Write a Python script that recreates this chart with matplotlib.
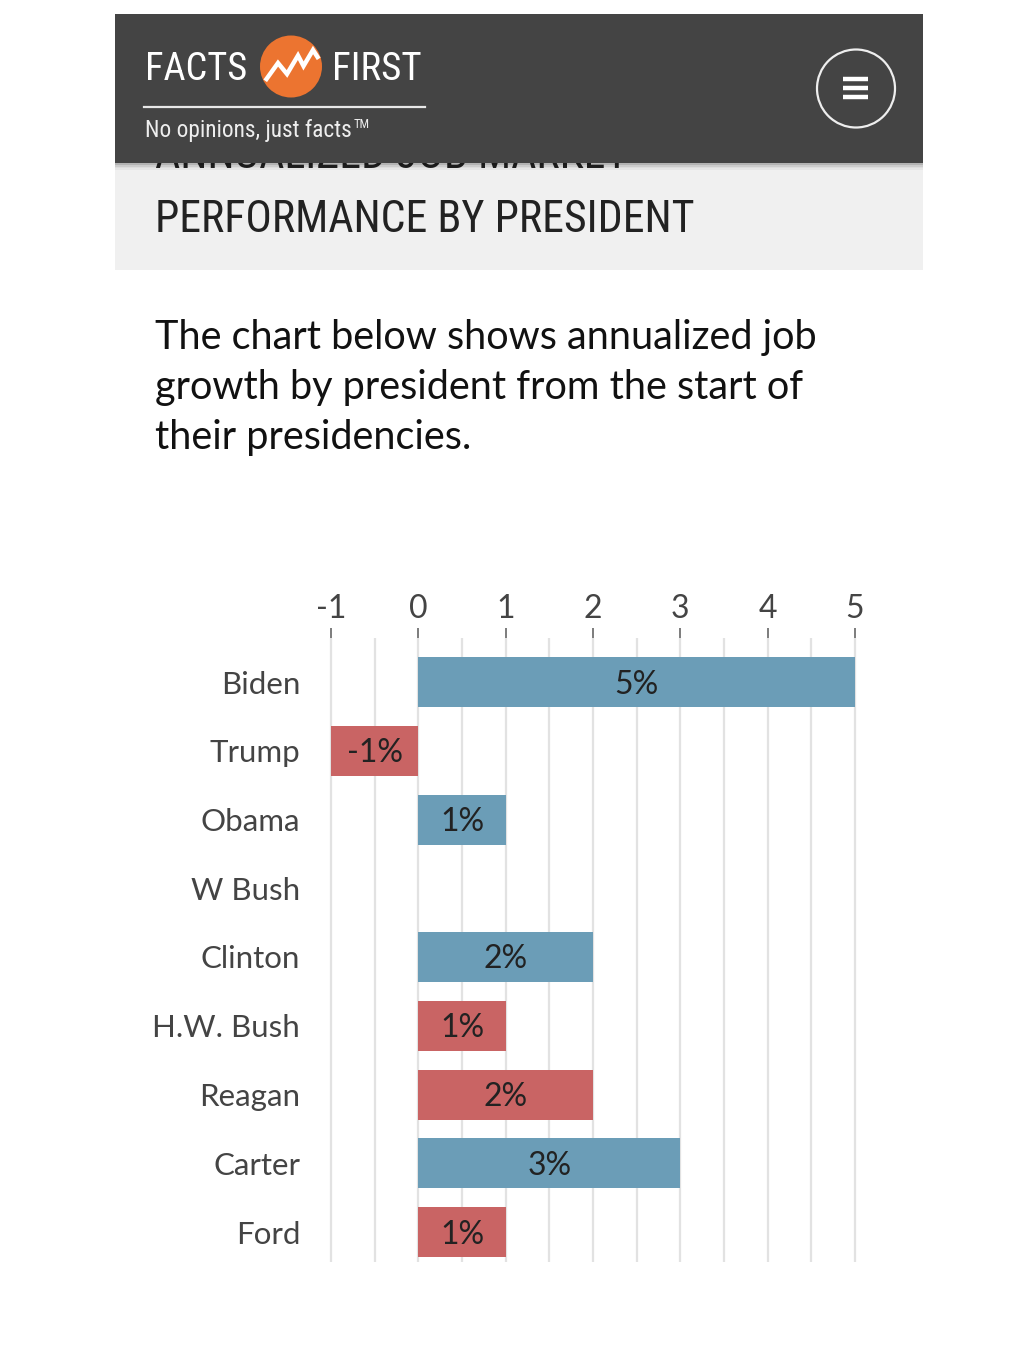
import matplotlib
matplotlib.use("Agg")
import matplotlib.pyplot as plt
from matplotlib.patches import Rectangle, Circle
import numpy as np

# ---- data ----
presidents = ["Biden", "Trump", "Obama", "W Bush", "Clinton", "H.W. Bush", "Reagan", "Carter", "Ford"]
growth = [5, -1, 1, 0, 2, 1, 2, 3, 1]
party = ["D", "R", "D", "R", "D", "R", "R", "D", "R"]
x_ticks = [-1, 0, 1, 2, 3, 4, 5]

title_hidden = "ANNUALIZED JOB MARKET"
title = "PERFORMANCE BY PRESIDENT"
intro_lines = ["The chart below shows annualized job",
               "growth by president from the start of",
               "their presidencies."]

BLUE = "#6b9db7"
RED = "#c96464"
party_color = {"D": BLUE, "R": RED}

W, H = 1020, 1357
fig = plt.figure(figsize=(W / 100, H / 100), dpi=100)
fig.patch.set_facecolor("white")

HEAD = ["Roboto Condensed", "Roboto", "DejaVu Sans"]
BODY = ["Lato", "DejaVu Sans"]

# ---- page overlay axes (pixel coordinates) ----
bg = fig.add_axes([0, 0, 1, 1])
bg.set_xlim(0, W)
bg.set_ylim(H, 0)
bg.axis("off")

# grey title band
bg.add_patch(Rectangle((115, 150), 808, 120, facecolor="#f0f0f0", edgecolor="none", zorder=0.5))
bg.text(155, 168, title_hidden, family=HEAD, fontsize=31.6, color="#222222", va="baseline", ha="left", zorder=1)
bg.text(155, 232, title, family=HEAD, fontsize=31.6, color="#222222", va="baseline", ha="left", zorder=1)

# header shadow
for i, a in enumerate([0.25, 0.15, 0.08, 0.04]):
    bg.add_patch(Rectangle((115, 163 + i * 1.8), 808, 1.8, facecolor="black", alpha=a,
                           edgecolor="none", zorder=2.5))
# dark header bar
bg.add_patch(Rectangle((115, 14), 808, 149, facecolor="#444444", edgecolor="none", zorder=3))
bg.text(145, 80, "FACTS", family=HEAD, fontsize=27.6, color="white", va="baseline", ha="left", zorder=4)
bg.text(332, 80, "FIRST", family=HEAD, fontsize=28, color="white", va="baseline", ha="left", zorder=4)
bg.add_patch(Circle((291, 66.5), 31, facecolor="#ec7430", edgecolor="none", zorder=4))
zx = [266.5, 278, 287, 298, 303.5, 313, 317.5]
zy = [79, 63, 74, 55.5, 66, 50, 57]
bg.plot(zx, zy, color="white", lw=3.2, solid_joinstyle="miter", zorder=5)
bg.plot([144, 425], [107, 107], color="#e8e8e8", lw=1.6, zorder=4)
slogan = bg.text(145, 137, "No opinions, just facts", family=HEAD, fontsize=16.8, color="#eeeeee",
                 va="baseline", ha="left", zorder=4)
fig.canvas.draw()
bb = slogan.get_window_extent(renderer=fig.canvas.get_renderer())
tm_x = bb.x1 + 2
bg.text(tm_x, 128.5, "TM", family=HEAD, fontsize=9, color="#eeeeee", va="baseline", ha="left", zorder=4)
# hamburger menu
bg.add_patch(Circle((856, 88.5), 39, facecolor="none", edgecolor="#eeeeee", lw=1.6, zorder=4))
for yy in [79, 88, 97]:
    bg.plot([843, 868], [yy, yy], color="white", lw=3.2, solid_capstyle="butt", zorder=5)

# intro paragraph
for i, line in enumerate(intro_lines):
    bg.text(155, 349 + i * 50, line, family=BODY, fontsize=28.5, color="#111111",
            va="baseline", ha="left", zorder=1)

# ---- chart axes ----
px_per_unit = (855 - 331) / 6.0
xmin, xmax = -1.05, 5.05
left_px = 331 - 0.05 * px_per_unit
right_px = 855 + 0.05 * px_per_unit
top_px, bot_px = 638, 1262
ax = fig.add_axes([left_px / W, 1 - bot_px / H, (right_px - left_px) / W, (bot_px - top_px) / H])
ax.patch.set_alpha(0)
for s in ax.spines.values():
    s.set_visible(False)

n = len(presidents)
ypos = np.arange(n)
step = 68.75
ax.set_xlim(xmin, xmax)
ax.set_ylim(n - 1 + 30 / step, -44 / step)

# grid lines every 0.5
for gx in np.arange(-1, 5.01, 0.5):
    ax.axvline(gx, color="#e2e2e2", lw=1.6, zorder=0)

bar_h = 50 / step
colors = [party_color[p] for p in party]
ax.barh(ypos, growth, height=bar_h, color=colors, lw=0, zorder=2)

label_shift = 11.5 / step
for y, v in zip(ypos, growth):
    if v != 0:
        ax.text(v / 2, y + label_shift, f"{v}%", family=BODY, fontsize=23, color="#222222",
                ha="center", va="baseline", zorder=3)

ax.xaxis.set_ticks_position("top")
ax.xaxis.set_label_position("top")
ax.set_xticks(x_ticks)
ax.set_xticklabels([str(t) for t in x_ticks], family=BODY, fontsize=23, color="#444444")
ax.tick_params(axis="x", direction="out", length=7, width=1.2, color="#666666", pad=3)

ax.set_yticks(ypos)
ax.set_yticklabels(presidents, family=BODY, fontsize=22.5, color="#444444")
ax.tick_params(axis="y", length=0, pad=19)

fig.savefig("out.png", dpi=100, facecolor="white")
